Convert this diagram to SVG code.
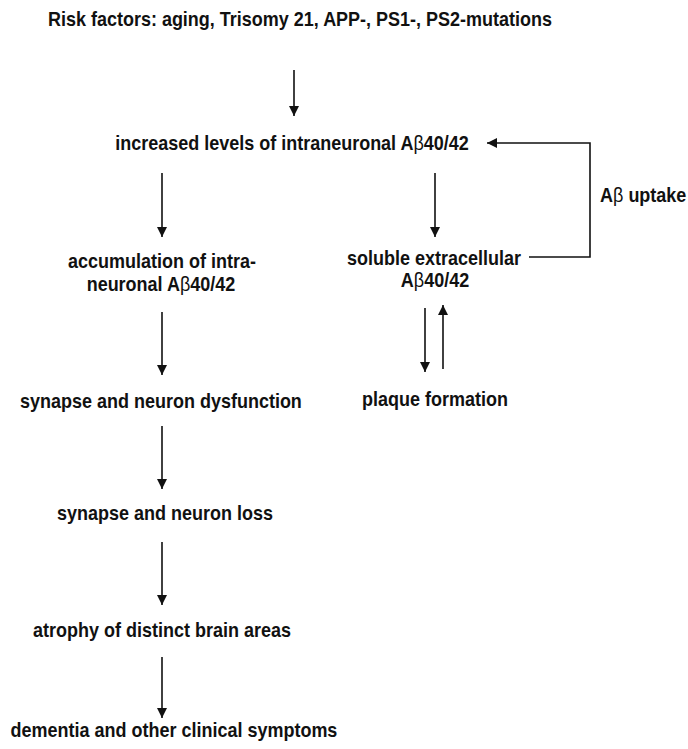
<svg xmlns="http://www.w3.org/2000/svg" width="688" height="749" viewBox="0 0 688 749">
<style>
text{font-family:"Liberation Sans",Arial,sans-serif;font-weight:bold;font-size:19.5px;fill:#111;text-anchor:middle}
.b{font-weight:normal}
.c{fill:none;stroke:#111;stroke-width:1.6}
</style>
<defs>
<marker id="ah" viewBox="0 0 10 12" refX="10" refY="6" markerWidth="10" markerHeight="12" markerUnits="userSpaceOnUse" orient="auto">
<path d="M0,1 L10,6 L0,11 Z" fill="#111"/>
</marker>
</defs>
<rect width="688" height="749" fill="#fff"/>
<g id="connectors">
<line class="c" x1="294" y1="70" x2="294" y2="116" marker-end="url(#ah)"/>
<line class="c" x1="162" y1="173" x2="162" y2="237" marker-end="url(#ah)"/>
<line class="c" x1="435" y1="173" x2="435" y2="237" marker-end="url(#ah)"/>
<polyline class="c" points="529,257 590,257 590,143 487,143" marker-end="url(#ah)"/>
<line class="c" x1="425" y1="308" x2="425" y2="372" marker-end="url(#ah)"/>
<line class="c" x1="443" y1="369" x2="443" y2="305" marker-end="url(#ah)"/>
<line class="c" x1="162" y1="312" x2="162" y2="375" marker-end="url(#ah)"/>
<line class="c" x1="162" y1="426" x2="162" y2="489" marker-end="url(#ah)"/>
<line class="c" x1="162" y1="542" x2="162" y2="605" marker-end="url(#ah)"/>
<line class="c" x1="162" y1="657" x2="162" y2="718" marker-end="url(#ah)"/>
</g>
<g transform="scale(0.923,1)">
<g id="risk"><text x="325.0" y="26">Risk factors: aging, Trisomy 21, APP-, PS1-, PS2-mutations</text></g>
<g id="increased"><text x="316.4" y="150">increased levels of intraneuronal A<tspan class="b">β</tspan>40/42</text></g>
<g id="uptake"><text x="650.1" y="202" style="text-anchor:start">A<tspan class="b">β</tspan> uptake</text></g>
<g id="accumulation"><text x="175.5" y="268">accumulation of intra-</text><text x="174.4" y="291">neuronal A<tspan class="b">β</tspan>40/42</text></g>
<g id="soluble"><text x="470.2" y="265">soluble extracellular</text><text x="471.3" y="287">A<tspan class="b">β</tspan>40/42</text></g>
<g id="plaque"><text x="471.3" y="406">plaque formation</text></g>
<g id="dysfunction"><text x="174.4" y="408">synapse and neuron dysfunction</text></g>
<g id="loss"><text x="178.8" y="520">synapse and neuron loss</text></g>
<g id="atrophy"><text x="175.5" y="637">atrophy of distinct brain areas</text></g>
<g id="dementia"><text x="188.5" y="737">dementia and other clinical symptoms</text></g>
</g>
</svg>
